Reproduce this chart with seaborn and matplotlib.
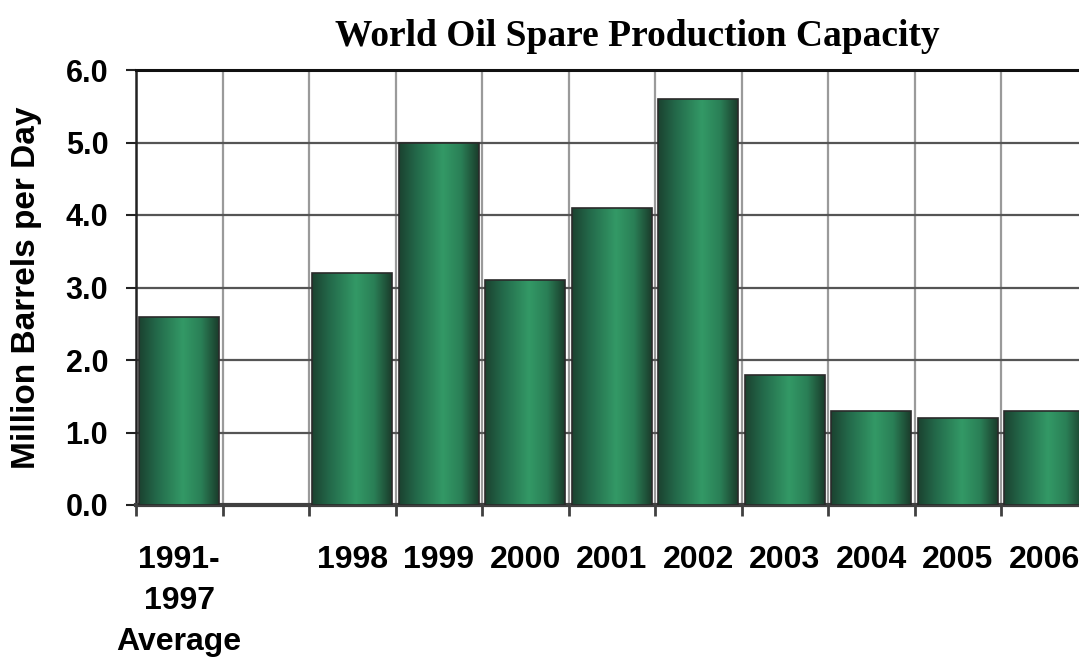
import numpy as np
import pandas as pd
import matplotlib
matplotlib.use("Agg")
import matplotlib.pyplot as plt
import seaborn as sns
from matplotlib.colors import LinearSegmentedColormap

# Spare capacity, million barrels per day (blank slot separates the average from yearly values)
periods = ["1991-\n1997\nAverage", " ", "1998", "1999", "2000", "2001",
           "2002", "2003", "2004", "2005", "2006"]
spare_capacity = [2.6, np.nan, 3.2, 5.0, 3.1, 4.1, 5.6, 1.8, 1.3, 1.2, 1.3]
y_ticks = [0, 1, 2, 3, 4, 5, 6]
y_tick_labels = ["0.0", "1.0", "2.0", "3.0", "4.0", "5.0", "6.0"]

sns.set_theme(style="white")
plt.rcParams["font.family"] = ["Liberation Sans", "DejaVu Sans"]
plt.rcParams["font.weight"] = "bold"
plt.rcParams["text.color"] = "black"
plt.rcParams["xtick.labelcolor"] = "black"
plt.rcParams["ytick.labelcolor"] = "black"

W, H = 1079, 659
fig = plt.figure(figsize=(W / 100, H / 100), dpi=100)
fig.patch.set_facecolor("white")
ax = fig.add_axes([136 / W, 154 / H, 951.5 / W, 435 / H])

df = pd.DataFrame({"period": periods, "capacity": spare_capacity})
sns.barplot(data=df, x="period", y="capacity", order=periods, errorbar=None,
            width=0.92, color="#2e8b57", edgecolor="#2a2a2a", linewidth=1.2,
            ax=ax, zorder=3)

# Cylinder-style horizontal shading inside each bar
shade = LinearSegmentedColormap.from_list(
    "bar_shade",
    [(0.0, "#1b4230"), (0.22, "#23694a"), (0.55, "#339966"),
     (0.78, "#2a7f56"), (1.0, "#1a3c2b")])
grad = np.linspace(0, 1, 256).reshape(1, -1)
for patch in list(ax.patches):
    h = patch.get_height()
    if not np.isfinite(h) or h <= 0:
        continue
    x0 = patch.get_x()
    w = patch.get_width()
    im = ax.imshow(grad, extent=[x0, x0 + w, 0, h], aspect="auto",
                   cmap=shade, zorder=3.5, interpolation="bicubic")
    im.set_clip_path(patch)
    patch.set_facecolor("none")
    patch.set_zorder(4)

ax.set_xlim(-0.5, len(periods) - 0.5)
ax.set_ylim(0, 6)
ax.set_xlabel("")
ax.set_ylabel("")

# Y axis
ax.set_yticks(y_ticks)
ax.set_yticklabels(y_tick_labels)
ax.tick_params(axis="y", left=True, length=7, width=1.5, color="#222222",
               pad=13, labelsize=22, labelcolor="black")
ax.yaxis.grid(True, color="#555555", linewidth=1.6, zorder=1)

# X axis: labels at category centres, tick marks and grid at boundaries
ax.set_xticks(range(len(periods)))
ax.set_xticklabels(periods, linespacing=1.48)
ax.tick_params(axis="x", which="major", length=0, pad=28.5, labelsize=23,
               labelcolor="black")
ax.set_xticks(np.arange(-0.5, len(periods), 1.0), minor=True)
ax.tick_params(axis="x", which="minor", bottom=True, length=8, width=2,
               color="#404040", direction="out")
ax.xaxis.grid(True, which="minor", color="#9a9a9a", linewidth=1.6, zorder=1)
ax.xaxis.grid(False, which="major")
ax.set_axisbelow(True)

for lbl in ax.get_xticklabels() + ax.get_yticklabels():
    lbl.set_fontweight("bold")
    lbl.set_color("black")

ax.spines["right"].set_visible(False)
ax.spines["top"].set_color("#111111")
ax.spines["top"].set_linewidth(2.2)
ax.spines["left"].set_color("#222222")
ax.spines["left"].set_linewidth(1.8)
ax.spines["bottom"].set_color("#404040")
ax.spines["bottom"].set_linewidth(3)

fig.text(637.5 / W, (H - 46) / H, "World Oil Spare Production Capacity",
         ha="center", va="baseline", fontsize=27, fontweight="bold",
         color="black", family=["Liberation Serif", "DejaVu Serif"])
fig.text(27 / W, (H - 287.5) / H, "Million Barrels per Day", rotation=90,
         ha="center", va="center", fontsize=24, fontweight="bold",
         color="black")

fig.savefig("out.png", dpi=100, facecolor="white")
